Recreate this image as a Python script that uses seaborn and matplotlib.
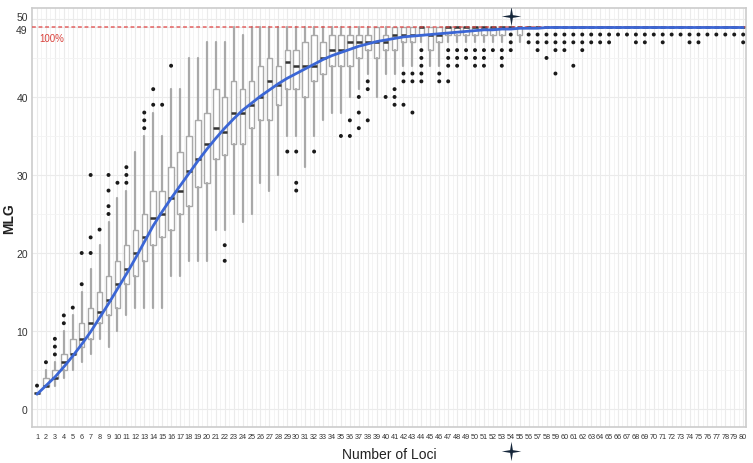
import matplotlib
matplotlib.use("Agg")
import matplotlib.pyplot as plt
import matplotlib.transforms as mtransforms
import pandas as pd
import seaborn as sns

# loci on the x axis
loci = list(range(1, 81))

# box statistics (one value per locus)
whis_lo = [2, 3, 3, 4, 5, 6, 7, 9, 8, 10,
           12, 13, 13, 13, 13, 17, 17, 19, 19, 19,
           23, 23, 25, 24, 25, 29, 28, 30, 35, 35,
           31, 35, 37, 38, 38, 40, 41, 43, 40, 43,
           43, 44, 44, 47, 44, 44, 47, 47, 47, 47,
           47, 47, 47, 49, 47, 49, 49, 49, 49, 49,
           49, 49, 49, 49, 49, 49, 49, 49, 49, 49,
           49, 49, 49, 49, 49, 49, 49, 49, 49, 49]
q1 = [2, 3, 4, 5, 7, 8, 9, 11, 12, 13,
      16, 17, 19, 21, 22, 23, 25, 26, 28.5, 29,
      32, 32.5, 34, 34, 36, 37, 37, 39, 41, 41,
      40, 42, 43, 44, 44, 44, 45, 46, 45, 46,
      46, 47, 47, 48, 46, 47, 48, 48, 48, 48,
      48, 48, 48, 49, 48, 49, 49, 49, 49, 49,
      49, 49, 49, 49, 49, 49, 49, 49, 49, 49,
      49, 49, 49, 49, 49, 49, 49, 49, 49, 49]
med = [2, 3, 4, 6, 7, 9, 11, 12.5, 14, 16,
       18, 20, 22, 24.5, 25, 27, 28, 30.5, 32, 34,
       36, 35.5, 38, 38, 39, 40, 42, 41.5, 44.5, 44,
       44, 44, 45, 46, 46, 47, 47, 47, 47, 47,
       48, 48, 48, 49, 48, 48, 49, 49, 49, 49,
       49, 49, 49, 49, 49, 49, 49, 49, 49, 49,
       49, 49, 49, 49, 49, 49, 49, 49, 49, 49,
       49, 49, 49, 49, 49, 49, 49, 49, 49, 49]
q3 = [2, 4, 5, 7, 9, 11, 13, 15, 17, 19,
      21, 23, 25, 28, 28, 31, 33, 35, 37, 38,
      41, 40, 42, 41, 42, 44, 45, 44, 46, 46,
      47, 48, 47, 48, 48, 48, 48, 48, 49, 48,
      49, 49, 49, 49, 49, 49, 49, 49, 49, 49,
      49, 49, 49, 49, 49, 49, 49, 49, 49, 49,
      49, 49, 49, 49, 49, 49, 49, 49, 49, 49,
      49, 49, 49, 49, 49, 49, 49, 49, 49, 49]
whis_hi = [2, 5, 6, 10, 12, 15, 18, 21, 24, 27,
           28, 33, 35, 38, 35, 41, 41, 45, 45, 47,
           47, 47, 49, 48, 49, 49, 49, 49, 49, 49,
           49, 49, 49, 49, 49, 49, 49, 49, 49, 49,
           49, 49, 49, 49, 49, 49, 49, 49, 49, 49,
           49, 49, 49, 49, 49, 49, 49, 49, 49, 49,
           49, 49, 49, 49, 49, 49, 49, 49, 49, 49,
           49, 49, 49, 49, 49, 49, 49, 49, 49, 49]

# outlier points (locus, MLG)
out_locus = [1, 2, 3, 3, 3, 4, 4, 5, 6, 6, 7, 7, 7, 8, 9, 9, 9, 9, 10, 11, 11, 11,
             13, 13, 13, 14, 14, 15, 16, 22, 22, 29, 30, 30, 30, 32, 35, 36, 36,
             37, 37, 37, 38, 38, 38, 40, 41, 41, 41, 42, 42, 42, 43, 43, 43,
             44, 44, 44, 44, 44, 46, 46, 47, 47, 47, 47, 48, 48, 48, 49, 49,
             50, 50, 50, 51, 51, 51, 52, 53, 53, 53, 54, 54, 54, 56, 56,
             57, 57, 57, 58, 58, 58, 59, 59, 59, 59, 60, 60, 60, 61, 61, 61,
             62, 62, 62, 63, 63, 64, 64, 65, 65, 66, 67, 68, 68, 69, 69, 70,
             71, 71, 72, 73, 74, 74, 75, 75, 76, 77, 78, 79, 80, 80]
out_mlg = [3, 6, 7, 8, 9, 11, 12, 13, 16, 20, 20, 22, 30, 23, 25, 26, 28, 30, 29, 29, 30, 31,
           36, 37, 38, 39, 41, 39, 44, 19, 21, 33, 28, 29, 33, 33, 35, 35, 37,
           36, 38, 40, 37, 41, 42, 40, 39, 40, 41, 39, 42, 43, 38, 42, 43,
           42, 43, 44, 45, 46, 42, 43, 42, 44, 45, 46, 44, 45, 46, 45, 46,
           44, 45, 46, 44, 45, 46, 46, 44, 45, 46, 46, 47, 48, 47, 48,
           46, 47, 48, 45, 47, 48, 43, 46, 47, 48, 46, 47, 48, 44, 47, 48,
           46, 47, 48, 47, 48, 47, 48, 47, 48, 48, 48, 47, 48, 47, 48, 48,
           47, 48, 48, 48, 47, 48, 47, 48, 48, 48, 48, 48, 47, 48]

# fitted accumulation curve
curve = [1.9, 3.0, 4.1, 5.4, 6.8, 8.3, 9.9, 11.7, 13.5, 15.4,
         17.3, 19.3, 21.4, 23.5, 25.3, 27.0, 28.6, 30.2, 31.8, 33.3,
         34.7, 36.0, 37.2, 38.3, 39.2, 40.1, 40.9, 41.7, 42.4, 43.0,
         43.6, 44.2, 44.8, 45.3, 45.7, 46.1, 46.5, 46.8, 47.1, 47.3,
         47.5, 47.7, 47.8, 47.9, 48.0, 48.1, 48.2, 48.3, 48.4, 48.5,
         48.6, 48.6, 48.7, 48.7, 48.8, 48.8, 48.8, 48.9, 48.9, 48.9,
         48.9, 48.9, 48.9, 48.9, 48.9, 48.9, 48.9, 48.9, 48.9, 48.9,
         48.9, 48.9, 48.9, 48.9, 48.9, 48.9, 48.9, 48.9, 48.9, 48.9]

full_mlg = 49
star_locus = 54
y_ticks = [0, 10, 20, 30, 40, 49, 50]

sns.set_theme(style="whitegrid")
plt.rcParams['font.family'] = ['Liberation Sans', 'DejaVu Sans']

fig = plt.figure(figsize=(7.53, 4.64), dpi=100)
ax = fig.add_axes([0.0425, 0.0776, 0.948, 0.903])

# grid: every locus plus half steps, every 5 MLG
ax.set_xticks(loci)
ax.set_xticks([l + 0.5 for l in loci[:-1]], minor=True)
ax.set_yticks(y_ticks)
ax.set_yticks([5, 15, 25, 35, 45], minor=True)
ax.grid(True, which='major', color='#ebebeb', lw=0.8)
ax.grid(True, which='minor', color='#f3f3f3', lw=0.6)
ax.set_axisbelow(True)

# boxes
stats = []
for i, l in enumerate(loci):
    stats.append({'whislo': whis_lo[i], 'q1': q1[i], 'med': med[i],
                  'q3': q3[i], 'whishi': whis_hi[i], 'fliers': [], 'label': str(l)})
ax.bxp(stats, positions=loci, widths=0.62, showcaps=False, showfliers=False,
       patch_artist=True, manage_ticks=False,
       boxprops=dict(facecolor='white', edgecolor='#a9a9a9', lw=1.0),
       whiskerprops=dict(color='#a9a9a9', lw=1.6),
       medianprops=dict(color='#333333', lw=1.8))

# outliers
outl = pd.DataFrame({'locus': out_locus, 'mlg': out_mlg})
sns.scatterplot(data=outl, x='locus', y='mlg', ax=ax, color='#1a1a1a', s=8,
                edgecolor='none', zorder=4)

# 100% line
ax.axhline(full_mlg, color='#e04848', lw=1.1, ls=(0, (2.5, 1.8)), alpha=0.85, zorder=3)
ax.text(1.3, 47.6, '100%', color='#d9413b', fontsize=7, va='center', ha='left')

# curve
cdf = pd.DataFrame({'locus': loci, 'mlg': curve})
sns.lineplot(data=cdf, x='locus', y='mlg', ax=ax, color='#3b66d5', lw=2.0, zorder=5)

# thin four-point stars marking locus 54
star = [(0, 1), (0.14, 0.14), (1, 0), (0.14, -0.14), (0, -1),
        (-0.14, -0.14), (-1, 0), (-0.14, 0.14), (0, 1)]
ax.plot([star_locus], [50.4], marker=star, ms=14, color='#15263a', mew=0, zorder=6)
ax.plot([star_locus], [-5.4], marker=star, ms=14, color='#15263a', mew=0,
        clip_on=False, zorder=6)

ax.set_xlim(0.44, 80.3)
ax.set_ylim(-2.3, 51.4)
ax.set_xticklabels([str(l) for l in loci], fontsize=5.2, color='#333333')
ax.tick_params(axis='y', labelsize=7.5, labelcolor='#333333', length=2, pad=1)
ax.tick_params(axis='x', length=2, pad=2)
ax.tick_params(which='both', color='#999999', width=0.6)
ax.tick_params(which='minor', length=0)

# pull the 49 / 50 labels apart a little
fig.canvas.draw()
for lab in ax.get_yticklabels():
    if lab.get_text() == '50':
        lab.set_transform(lab.get_transform() +
                          mtransforms.ScaledTranslation(0, 2 / 72, fig.dpi_scale_trans))
    elif lab.get_text() == '49':
        lab.set_transform(lab.get_transform() +
                          mtransforms.ScaledTranslation(0, -1.5 / 72, fig.dpi_scale_trans))

ax.set_xlabel('Number of Loci', fontsize=10, color='#222222')
ax.set_ylabel('MLG', fontsize=10, fontweight='bold', color='#222222')
ax.xaxis.set_label_coords(0.5, -0.047)
ax.yaxis.set_label_coords(-0.022, 0.5)

for sp in ax.spines.values():
    sp.set_color('#cccccc')
    sp.set_linewidth(1.2)

fig.savefig('out.png', dpi=100)
